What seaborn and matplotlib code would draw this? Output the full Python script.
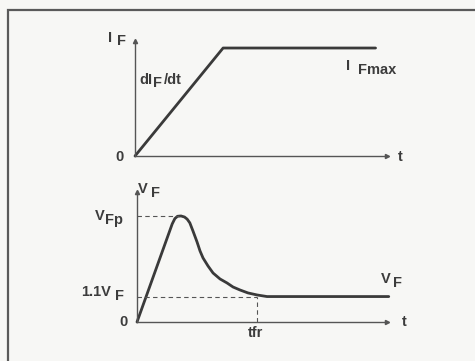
import numpy as np
import pandas as pd
import matplotlib
matplotlib.use("Agg")
import matplotlib.pyplot as plt
import seaborn as sns
from matplotlib.patches import Rectangle

# ---- data ----
t_if = [0.0, 1.0, 2.73]
i_f = [0.0, 1.0, 1.0]

t_vf = [0, 0.40, 0.43, 0.46, 0.50, 0.54, 0.57, 0.60, 0.636, 0.682, 0.716, 0.75, 0.807,
        0.864, 0.943, 1.023, 1.091, 1.17, 1.261, 1.364, 1.477, 2.86]
v_f = [0, 0.925, 0.975, 0.997, 1.0, 0.99, 0.97, 0.935, 0.858, 0.755, 0.67, 0.604, 0.528,
       0.462, 0.406, 0.368, 0.33, 0.302, 0.274, 0.255, 0.24, 0.24]

v_fp = 1.0
t_peak = 0.48
v_11 = 0.24
t_fr = 1.36

sns.set_theme(style="white")
plt.rcParams['font.family'] = ['Liberation Sans', 'DejaVu Sans']

W, H = 475, 361
BG = "#f7f7f5"
INK = "#3a3a3a"
TXT = "#3c3c3c"

fig = plt.figure(figsize=(W / 100, H / 100), dpi=100, facecolor=BG)

# frame
fig.add_artist(Rectangle((7.5 / W, -0.05), 1.2, 1 - 9.5 / H + 0.05, transform=fig.transFigure,
                         fill=False, edgecolor="#5a5a5a", linewidth=1.6))


def axes_px(x0, y0, x1, y1):
    return fig.add_axes([x0 / W, 1 - y0 / H, (x1 - x0) / W, (y0 - y1) / H])


def style(ax):
    ax.set_facecolor("none")
    for s in ["top", "right"]:
        ax.spines[s].set_visible(False)
    for s in ["left", "bottom"]:
        ax.spines[s].set_color("#555555")
        ax.spines[s].set_linewidth(1.0)
    ax.set_xticks([])
    ax.set_yticks([])
    ax.set_xlabel("")
    ax.set_ylabel("")
    ax.plot(1, 0, ">", color="#555555", ms=3, transform=ax.transAxes, clip_on=False)
    ax.plot(0, 1, "^", color="#555555", ms=3, transform=ax.transAxes, clip_on=False)


# top panel
ax1 = axes_px(135, 156, 387, 41)
sns.lineplot(x=t_if, y=i_f, ax=ax1, color=INK, linewidth=2.0, sort=False)
ax1.set_xlim(0, 2.86)
ax1.set_ylim(0, 1.065)
style(ax1)
for l in ax1.lines:
    l.set_clip_on(False)
    l.set_solid_joinstyle("round")

# bottom panel
ax2 = axes_px(137, 322, 387, 192)
sns.lineplot(x=t_vf, y=v_f, ax=ax2, color=INK, linewidth=2.0, sort=False)
ax2.set_xlim(0, 2.84)
ax2.set_ylim(0, 1.226)
style(ax2)
for l in ax2.lines:
    l.set_clip_on(False)
    l.set_solid_joinstyle("round")
dash = dict(color="#555555", linewidth=0.8, linestyle=(0, (4, 3)))
ax2.plot([0, t_peak], [v_fp, v_fp], **dash)
ax2.plot([0, t_fr], [v_11, v_11], **dash)
ax2.plot([t_fr, t_fr], [0, v_11], **dash)


def txt(x, y, s, size=10.5, ha="center"):
    fig.text(x / W, 1 - y / H, s, ha=ha, va="center", fontsize=size,
             fontweight="bold", color=TXT)


# top labels
txt(110, 38, "I")
txt(121, 41, "F")
txt(146, 80, "dI")
txt(157, 83, "F")
txt(173, 80, "/dt")
txt(348, 66, "I")
txt(377, 70, "Fmax")
txt(119, 157, "0")
txt(400, 157, "t")

# bottom labels
txt(143, 189, "V")
txt(155, 193, "F")
txt(100, 216, "V")
txt(114, 220, "Fp")
txt(96, 292, "1.1V")
txt(120, 296, "F")
txt(124, 322, "0")
txt(404, 322, "t")
txt(386, 279, "V")
txt(398, 283, "F")
txt(256, 333, "tfr")

fig.savefig("out.png", dpi=100, facecolor=BG)
